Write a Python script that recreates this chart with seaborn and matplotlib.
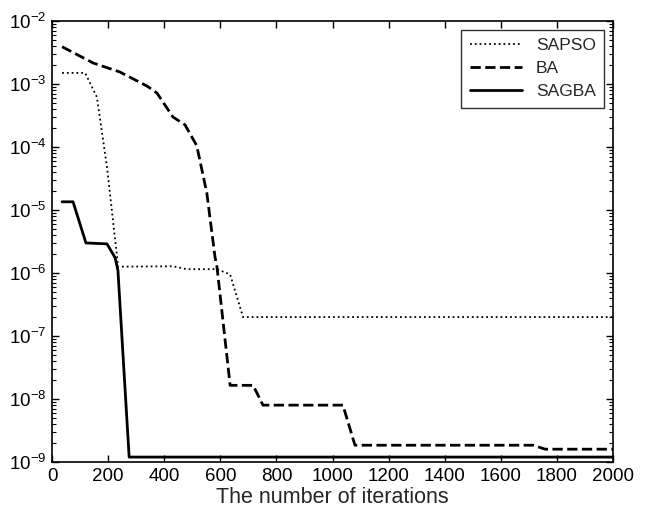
import numpy as np
import pandas as pd
import matplotlib
matplotlib.use("Agg")
import matplotlib.pyplot as plt
import seaborn as sns
from matplotlib.ticker import LogLocator, NullFormatter

# -----------------------------
# Data
# -----------------------------
sapso_x = [36, 118, 160, 196, 232, 235, 431, 481, 588, 635, 681, 2000]
sapso_y = [1.5e-3, 1.5e-3, 6.2e-4, 4.8e-5, 1.8e-6, 1.26e-6, 1.28e-6, 1.15e-6, 1.15e-6, 9.5e-7, 2.0e-7, 2.0e-7]

ba_x = [36, 147, 242, 338, 374, 431, 474, 516, 552, 581, 588, 635, 717, 752, 1037, 1080, 1715, 1758, 2000]
ba_y = [3.9e-3, 2.15e-3, 1.55e-3, 9.3e-4, 7.2e-4, 3.0e-4, 2.25e-4, 1.05e-4, 1.85e-5, 1.8e-6, 1.26e-6,
        1.65e-8, 1.65e-8, 8.0e-9, 8.0e-9, 1.85e-9, 1.85e-9, 1.6e-9, 1.6e-9]

sagba_x = [36, 75, 121, 196, 225, 235, 275, 2000]
sagba_y = [1.35e-5, 1.35e-5, 3.0e-6, 2.9e-6, 1.75e-6, 1.1e-6, 1.2e-9, 1.2e-9]

series = [("SAPSO", sapso_x, sapso_y, ":", 1.3),
          ("BA", ba_x, ba_y, "--", 2.0),
          ("SAGBA", sagba_x, sagba_y, "-", 2.0)]

# -----------------------------
# Style
# -----------------------------
sns.set_style("ticks")
plt.rcParams["font.family"] = ["Liberation Sans", "DejaVu Sans"]
plt.rcParams["mathtext.default"] = "regular"

fig = plt.figure(figsize=(6.46, 5.18), dpi=100)
ax = fig.add_axes([0.0805, 0.108, 0.8685, 0.8515])

for name, xs, ys, ls, lw in series:
    df = pd.DataFrame({"x": xs, "y": ys})
    sns.lineplot(data=df, x="x", y="y", ax=ax, color="black", linestyle=ls,
                 linewidth=lw, label=name, sort=False, estimator=None)

ax.set_yscale("log")
ax.set_xlim(0, 2000)
ax.set_ylim(1e-9, 1e-2)
ax.set_xticks(range(0, 2001, 200))
ax.yaxis.set_major_locator(LogLocator(base=10, numticks=20))
ax.yaxis.set_minor_locator(LogLocator(base=10, subs=np.arange(2, 10), numticks=20))
ax.yaxis.set_minor_formatter(NullFormatter())

ax.tick_params(which="both", direction="in", top=True, right=True, colors="black", labelsize=13.5)
ax.tick_params(which="major", length=5, width=1, pad=4)
ax.tick_params(which="minor", length=3, width=0.8)
for sp in ax.spines.values():
    sp.set_visible(True)
    sp.set_color("black")
    sp.set_linewidth(1.2)

ax.set_xlabel("The number of iterations", fontsize=15.5, labelpad=2)
ax.set_ylabel("")
ax.yaxis.label.set_visible(False)

leg = ax.legend(loc="upper right", fontsize=12.5, frameon=True, fancybox=False,
                edgecolor="black", handlelength=3.0, borderaxespad=0.5, labelspacing=0.45,
                borderpad=0.5)
leg.get_frame().set_linewidth(1.0)

fig.savefig("out.png", dpi=100)
